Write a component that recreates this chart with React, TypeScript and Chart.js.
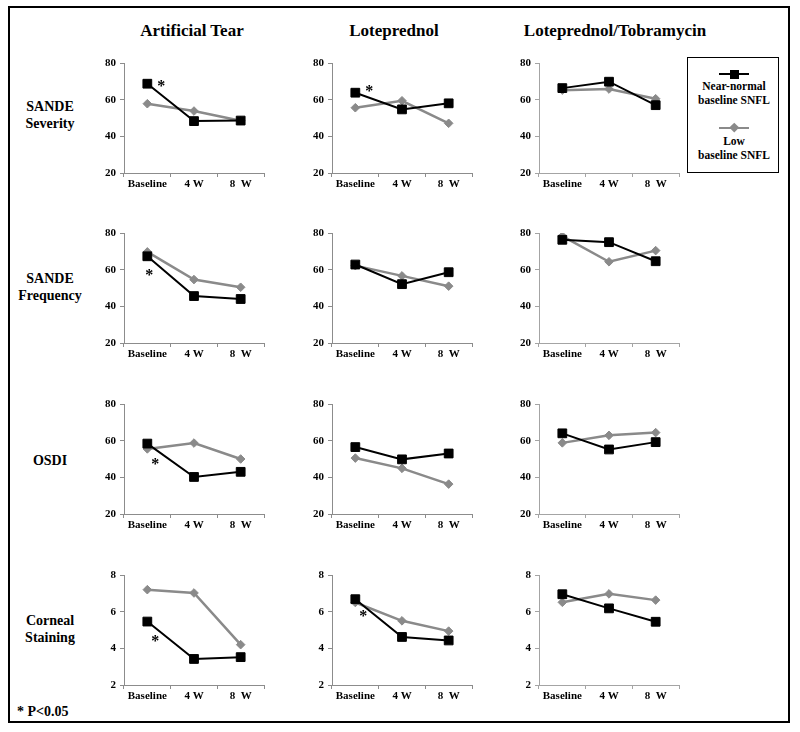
import React, { useEffect, useRef } from 'react';
import { Chart, registerables } from 'chart.js';

Chart.register(...registerables);

// ---------------- DATA ----------------
const categories = ['Baseline', '4 W', '8  W'];
const treatments = ['Artificial Tear', 'Loteprednol', 'Loteprednol/Tobramycin'];
const outcomes = [['SANDE', 'Severity'], ['SANDE', 'Frequency'], ['OSDI'], ['Corneal', 'Staining']];
const seriesNames = [['Near-normal', 'baseline SNFL'], ['Low', 'baseline SNFL']];
const footnote = '* P<0.05';

const scoreAxis = { min: 20, max: 80, step: 20 };
const stainingAxis = { min: 2, max: 8, step: 2 };

// values per treatment: [Artificial Tear, Loteprednol, Loteprednol/Tobramycin], each [Baseline, 4 W, 8 W]
const severityNearNormal = [[68.7, 48.3, 48.6], [63.8, 54.7, 58.0], [66.3, 69.8, 57.0]];
const severityLow = [[57.8, 53.8, 48.5], [55.6, 59.4, 47.1], [65.2, 65.8, 60.5]];
const frequencyNearNormal = [[67.3, 45.6, 44.0], [62.8, 52.1, 58.6], [76.3, 75.0, 64.6]];
const frequencyLow = [[69.7, 54.6, 50.4], [62.2, 56.6, 51.0], [78.3, 64.3, 70.4]];
const osdiNearNormal = [[58.4, 40.2, 43.0], [56.5, 49.8, 53.0], [64.0, 55.2, 59.2]];
const osdiLow = [[55.5, 58.7, 50.0], [50.5, 44.9, 36.3], [58.8, 62.9, 64.4]];
const stainingNearNormal = [[5.46, 3.42, 3.52], [6.68, 4.62, 4.43], [6.95, 6.18, 5.45]];
const stainingLow = [[7.2, 7.02, 4.2], [6.5, 5.5, 4.94], [6.51, 6.97, 6.63]];

// significant differences (outcome row, treatment column, time index)
const significant = [
  { row: 0, col: 0, time: 0 },
  { row: 0, col: 1, time: 0 },
  { row: 1, col: 0, time: 0 },
  { row: 2, col: 0, time: 0 },
  { row: 3, col: 0, time: 0 },
  { row: 3, col: 1, time: 0 },
];

// ---------------- STYLE / LAYOUT ----------------
const nearNormalByRow = [severityNearNormal, frequencyNearNormal, osdiNearNormal, stainingNearNormal];
const lowByRow = [severityLow, frequencyLow, osdiLow, stainingLow];
const axisByRow = [scoreAxis, scoreAxis, scoreAxis, stainingAxis];

const STAR_OFFSETS = [
  [14, -1],
  [14, -5],
  [2, 16],
  [8, 17],
  [8, 16],
  [8, 14],
];

const FONT = "'Liberation Serif', 'Times New Roman', Times, serif";
const GRAY = '#8a8a8a';
const AXIS_X = [124, 332, 539];
const PLOT_TOP = [63, 233, 404, 575];
const PLOT_W = 140;
const PLOT_H = 110;
const Y_W = 40;
const PAD_T = 12;
const PAD_R = 8;
const X_H = 26;
const TITLE_CX = [192, 394, 615];
const ROW_LABEL_CY = [115, 286.5, 460.5, 628.5];

const starPlugin = {
  id: 'sigStars',
  afterDatasetsDraw(chart: any, _args: any, opts: any) {
    const marks = (opts && opts.marks) || [];
    const meta = chart.getDatasetMeta(0);
    const ctx = chart.ctx;
    ctx.save();
    ctx.fillStyle = '#000';
    ctx.font = `bold 16px ${FONT}`;
    ctx.textAlign = 'center';
    ctx.textBaseline = 'alphabetic';
    marks.forEach((m: any) => {
      const pt = meta.data[m.time];
      if (!pt) return;
      ctx.fillText('*', pt.x + m.dx, pt.y + m.dy + 8);
    });
    ctx.restore();
  },
};

function Panel({ row, col }: { row: number; col: number }) {
  const ref = useRef<HTMLCanvasElement>(null);
  useEffect(() => {
    if (!ref.current) return;
    const axis = axisByRow[row];
    const axisColor = col === 2 ? '#a4a4a4' : '#8c8c8c';
    const marks = significant
      .map((s, i) => ({ ...s, dx: STAR_OFFSETS[i][0], dy: STAR_OFFSETS[i][1] }))
      .filter((s) => s.row === row && s.col === col);
    const tickFont = { family: FONT, size: 11, weight: 'bold' as const };
    const chart = new Chart(ref.current, {
      type: 'line',
      data: {
        labels: categories,
        datasets: [
          {
            label: seriesNames[0].join(' '),
            data: nearNormalByRow[row][col],
            borderColor: '#000',
            backgroundColor: '#000',
            borderWidth: 2,
            pointStyle: 'rect',
            pointRadius: 6.2,
            pointBorderWidth: 1,
            pointBorderColor: '#000',
            pointBackgroundColor: '#000',
            tension: 0,
          },
          {
            label: seriesNames[1].join(' '),
            data: lowByRow[row][col],
            borderColor: GRAY,
            backgroundColor: GRAY,
            borderWidth: 2.5,
            pointStyle: 'rectRot',
            pointRadius: 4.3,
            pointBorderWidth: 1,
            pointBorderColor: GRAY,
            pointBackgroundColor: GRAY,
            tension: 0,
          },
        ],
      },
      options: {
        animation: false,
        responsive: false,
        maintainAspectRatio: false,
        devicePixelRatio: 1,
        layout: { padding: { top: PAD_T, right: PAD_R, left: 0, bottom: 0 } },
        plugins: {
          legend: { display: false },
          tooltip: { enabled: false },
          // @ts-ignore
          sigStars: { marks },
        },
        scales: {
          x: {
            type: 'category',
            offset: true,
            grid: {
              display: true,
              offset: true,
              drawOnChartArea: false,
              drawTicks: true,
              tickLength: 4,
              color: axisColor,
              lineWidth: 1,
            },
            border: { display: true, color: axisColor, width: 1 },
            ticks: { color: '#000', font: tickFont, padding: 1, maxRotation: 0, autoSkip: false },
            afterFit: (s: any) => {
              s.height = X_H;
            },
          },
          y: {
            min: axis.min,
            max: axis.max,
            ticks: { stepSize: axis.step, color: '#000', font: tickFont, padding: 4 },
            grid: { drawOnChartArea: false, tickLength: 4, color: axisColor, lineWidth: 1 },
            border: { display: true, color: axisColor, width: 1 },
            afterFit: (s: any) => {
              s.width = Y_W;
            },
          },
        },
      },
      plugins: [starPlugin],
    } as any);
    return () => chart.destroy();
  }, [row, col]);

  const w = Y_W + PLOT_W + PAD_R;
  const h = PAD_T + PLOT_H + X_H;
  return (
    <canvas
      ref={ref}
      width={w}
      height={h}
      style={{
        position: 'absolute',
        left: AXIS_X[col] - Y_W,
        top: PLOT_TOP[row] - PAD_T,
        width: w,
        height: h,
      }}
    />
  );
}

function Legend() {
  const textStyle: React.CSSProperties = {
    position: 'absolute',
    left: 0,
    width: 92,
    textAlign: 'center',
    fontFamily: FONT,
    fontWeight: 'bold',
    fontSize: 11.5,
    lineHeight: '14.3px',
    color: '#000',
    whiteSpace: 'nowrap',
  };
  return (
    <div
      style={{
        position: 'absolute',
        left: 687,
        top: 57,
        width: 92,
        height: 116,
        border: '1.5px solid #000',
        boxSizing: 'border-box',
        background: '#fff',
      }}
    >
      {/* near-normal sample */}
      <div style={{ position: 'absolute', left: 31, top: 15, width: 30, height: 2, background: '#000' }} />
      <div style={{ position: 'absolute', left: 41.5, top: 11.5, width: 9, height: 9, background: '#000' }} />
      <div style={{ ...textStyle, top: 20.5 }}>
        {seriesNames[0][0]}
        <br />
        {seriesNames[0][1]}
      </div>
      {/* low sample */}
      <div style={{ position: 'absolute', left: 31, top: 68.5, width: 30, height: 2.5, background: GRAY }} />
      <div
        style={{
          position: 'absolute',
          left: 43,
          top: 66,
          width: 6.5,
          height: 6.5,
          background: GRAY,
          transform: 'rotate(45deg)',
        }}
      />
      <div style={{ ...textStyle, top: 75.5 }}>
        {seriesNames[1][0]}
        <br />
        {seriesNames[1][1]}
      </div>
    </div>
  );
}

export default function App() {
  return (
    <div
      style={{
        position: 'absolute',
        left: 0,
        top: 0,
        width: 800,
        height: 732,
        background: '#fff',
        overflow: 'hidden',
      }}
    >
      <div
        style={{
          position: 'absolute',
          left: 8,
          top: 6,
          width: 782,
          height: 717,
          border: '2px solid #000',
          boxSizing: 'border-box',
        }}
      />
      {treatments.map((t, c) => (
        <div
          key={t}
          style={{
            position: 'absolute',
            left: TITLE_CX[c] - 150,
            top: 22,
            width: 300,
            textAlign: 'center',
            fontFamily: FONT,
            fontWeight: 'bold',
            fontSize: 17,
            lineHeight: '17px',
            color: '#000',
          }}
        >
          {t}
        </div>
      ))}
      {outcomes.map((lines, r) => (
        <div
          key={r}
          style={{
            position: 'absolute',
            left: 0,
            width: 100,
            top: ROW_LABEL_CY[r] - (lines.length * 17) / 2,
            textAlign: 'center',
            fontFamily: FONT,
            fontWeight: 'bold',
            fontSize: 14,
            lineHeight: '17px',
            color: '#000',
          }}
        >
          {lines.map((l, i) => (
            <div key={i}>{l}</div>
          ))}
        </div>
      ))}
      {outcomes.map((_, r) =>
        treatments.map((__, c) => <Panel key={`${r}-${c}`} row={r} col={c} />)
      )}
      <Legend />
      <div
        style={{
          position: 'absolute',
          left: 17,
          top: 705,
          fontFamily: FONT,
          fontWeight: 'bold',
          fontSize: 14,
          lineHeight: '14px',
          color: '#000',
          whiteSpace: 'nowrap',
        }}
      >
        {footnote}
      </div>
    </div>
  );
}
